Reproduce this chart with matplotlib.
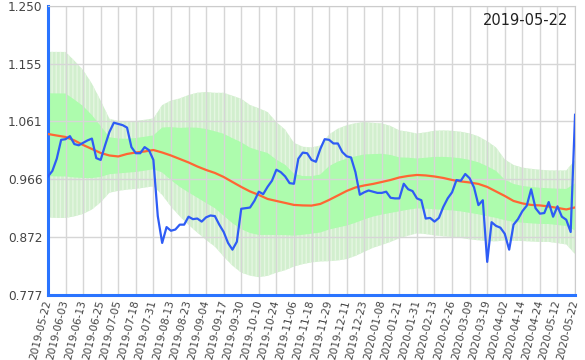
import numpy as np
import matplotlib.pyplot as plt

# trading-day axis: 241 days, a label every 8th day
tick_dates = ["2019-05-22", "2019-06-03", "2019-06-13", "2019-06-25", "2019-07-05",
              "2019-07-18", "2019-07-31", "2019-08-13", "2019-08-23", "2019-09-04",
              "2019-09-17", "2019-09-30", "2019-10-10", "2019-10-24", "2019-11-06",
              "2019-11-18", "2019-11-29", "2019-12-11", "2019-12-23", "2020-01-08",
              "2020-01-21", "2020-01-31", "2020-02-13", "2020-02-26", "2020-03-09",
              "2020-03-19", "2020-04-02", "2020-04-14", "2020-04-24", "2020-05-12",
              "2020-05-22"]
label_every = 8

# price, one value every 2 trading days
price_every = 2
price = [0.971, 0.980, 1.000, 1.031, 1.032, 1.037, 1.024, 1.022, 1.026, 1.030,
         1.033, 1.001, 0.998, 1.022, 1.044, 1.059, 1.057, 1.055, 1.051, 1.019,
         1.009, 1.009, 1.019, 1.014, 0.998, 0.906, 0.862, 0.888, 0.882, 0.884,
         0.892, 0.892, 0.905, 0.901, 0.902, 0.897, 0.904, 0.907, 0.906, 0.892,
         0.880, 0.862, 0.851, 0.864, 0.918, 0.919, 0.920, 0.931, 0.946, 0.942,
         0.954, 0.964, 0.982, 0.978, 0.971, 0.960, 0.959, 1.000, 1.010, 1.009,
         0.998, 0.995, 1.016, 1.032, 1.031, 1.025, 1.025, 1.011, 1.004, 1.002,
         0.978, 0.941, 0.945, 0.948, 0.946, 0.944, 0.944, 0.946, 0.936, 0.935,
         0.935, 0.959, 0.950, 0.947, 0.935, 0.932, 0.902, 0.903, 0.897, 0.903,
         0.921, 0.935, 0.945, 0.965, 0.964, 0.975, 0.968, 0.953, 0.924, 0.932,
         0.831, 0.896, 0.890, 0.887, 0.877, 0.851, 0.892, 0.901, 0.914, 0.923,
         0.950, 0.919, 0.910, 0.911, 0.929, 0.905, 0.922, 0.905, 0.900, 0.880,
         1.072]

# moving average, band centre and band sigma, one value every 4 trading days
band_every = 4
ma = [1.0405, 1.038, 1.0356, 1.030, 1.0225, 1.016, 1.0094, 1.0053, 1.0037, 1.0078,
      1.0102, 1.0119, 1.0143, 1.0102, 1.0053, 0.9996, 0.9939, 0.9873, 0.9816, 0.9767,
      0.9701, 0.9619, 0.9538, 0.9464, 0.9407, 0.9341, 0.9308, 0.9276, 0.9243, 0.9235,
      0.9232, 0.9259, 0.9325, 0.9398, 0.9472, 0.9529, 0.9562, 0.9587, 0.9619, 0.9652,
      0.9693, 0.9718, 0.9734, 0.9726, 0.9709, 0.9685, 0.9652, 0.9628, 0.9611, 0.9587,
      0.9538, 0.9464, 0.9390, 0.9308, 0.9268, 0.9243, 0.9235, 0.9218, 0.9194, 0.9169,
      0.9202]
band_mid = [1.0393, 1.0390, 1.0389, 1.0331, 1.0274, 1.0199, 1.0119, 1.0049, 1.0045, 1.0049,
            1.0061, 1.0082, 1.0104, 1.0143, 1.0084, 1.0022, 0.9980, 0.9935, 0.9881, 0.9820,
            0.9738, 0.9640, 0.9558, 0.9482, 0.9443, 0.9423, 0.9367, 0.9325, 0.9247, 0.9235,
            0.9243, 0.9266, 0.9359, 0.9413, 0.9452, 0.9495, 0.9538, 0.9564, 0.9583, 0.9587,
            0.9580, 0.9591, 0.9595, 0.9599, 0.9601, 0.9596, 0.9588, 0.9572, 0.9547, 0.9515,
            0.9468, 0.9416, 0.9325, 0.9276, 0.9253, 0.9239, 0.9228, 0.9223, 0.9212, 0.9202,
            0.9210]
sigma = [0.0679, 0.0680, 0.0680, 0.0638, 0.0589, 0.0516, 0.0417, 0.0303, 0.0286, 0.0278,
         0.0278, 0.0278, 0.0278, 0.0368, 0.0434, 0.0483, 0.0532, 0.0573, 0.0606, 0.0630,
         0.0671, 0.0696, 0.0712, 0.0699, 0.0692, 0.0671, 0.0617, 0.0576, 0.0507, 0.0481,
         0.0471, 0.0475, 0.0519, 0.0540, 0.0548, 0.0544, 0.0532, 0.0512, 0.0498, 0.0475,
         0.0442, 0.0426, 0.0409, 0.0417, 0.0429, 0.0434, 0.0435, 0.0435, 0.0434, 0.0426,
         0.0409, 0.0385, 0.0332, 0.0311, 0.0301, 0.0298, 0.0296, 0.0293, 0.0298, 0.0303,
         0.0386]

y_ticks = [0.777, 0.872, 0.966, 1.061, 1.155, 1.250]

n_days = (len(tick_dates) - 1) * label_every
xp = np.arange(len(price)) * price_every
xb = np.arange(len(band_mid)) * band_every
mid = np.array(band_mid)
sd = np.array(sigma)

fig = plt.figure(figsize=(5.85, 3.6), dpi=100)
ax = fig.add_axes([0.082, 0.181, 0.901, 0.802])

ax.fill_between(xb, mid - 2 * sd, mid + 2 * sd, facecolor="#d2efce",
                edgecolor="#e4f6e1", hatch="||||", linewidth=0)
ax.fill_between(xb, mid - sd, mid + sd, facecolor="#adfcad", linewidth=0)
ax.plot(xb, ma, color="#ff6633", lw=1.6, zorder=3)
ax.plot(xp, price, color="#2e5cf5", lw=1.6, zorder=4)

ax.set_xlim(0, n_days)
ax.set_ylim(y_ticks[0], y_ticks[-1])
ax.set_xticks(np.arange(0, n_days + 1, label_every))
ax.set_xticklabels(tick_dates, rotation=76, ha="right", va="center",
                   rotation_mode="anchor", fontsize=7.6)
ax.set_yticks(y_ticks)
ax.set_yticklabels(["%.3f" % v for v in y_ticks], fontsize=8.7)
ax.tick_params(length=0, colors="#444444", pad=4)
ax.grid(True, color="#d6d6d6", lw=1)

for s in ["top", "right"]:
    ax.spines[s].set_color("#cccccc")
ax.spines["left"].set_color("#2a74ff")
ax.spines["left"].set_linewidth(2.2)
ax.spines["bottom"].set_color("#2a74ff")
ax.spines["bottom"].set_linewidth(2.2)

ax.text(0.988, 0.95, tick_dates[0], transform=ax.transAxes, ha="right",
        va="center", fontsize=10.5, color="#222222")

fig.savefig("out.png", dpi=100)
